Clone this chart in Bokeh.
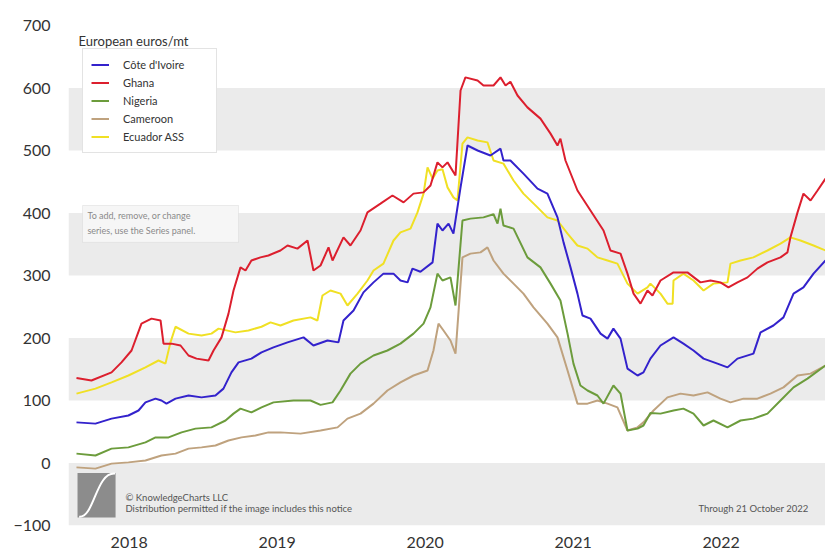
from bokeh.plotting import figure
from bokeh.models import (Range1d, FixedTicker, BoxAnnotation, Label, Legend,
                          LegendItem)
from bokeh.embed import file_html
from bokeh.resources import INLINE

# Cocoa bean prices, European euros per metric ton (weekly observations, decimal years)
civ_years = [2017.644, 2017.772, 2017.881, 2017.995, 2018.063, 2018.110, 2018.178, 2018.218,
             2018.252, 2018.313, 2018.401, 2018.489, 2018.583, 2018.637, 2018.691, 2018.739,
             2018.826, 2018.894, 2018.975, 2019.070, 2019.178, 2019.245, 2019.340, 2019.414,
             2019.448, 2019.516, 2019.583, 2019.651, 2019.718, 2019.786, 2019.833, 2019.881,
             2019.914, 2019.968, 2020.050, 2020.083, 2020.117, 2020.158, 2020.191, 2020.239,
             2020.286, 2020.354, 2020.441, 2020.509, 2020.529, 2020.576, 2020.664, 2020.759,
             2020.826, 2020.894, 2020.935, 2020.982, 2021.029, 2021.063, 2021.117, 2021.185,
             2021.232, 2021.272, 2021.320, 2021.367, 2021.435, 2021.475, 2021.522, 2021.590,
             2021.678, 2021.745, 2021.813, 2021.881, 2021.975, 2022.043, 2022.110, 2022.218,
             2022.266, 2022.353, 2022.421, 2022.489, 2022.556, 2022.624, 2022.705]
civ_values = [65, 63, 71, 76, 84, 97, 103, 100,
              95, 103, 108, 105, 108, 119, 145, 161,
              167, 177, 185, 193, 201, 188, 196, 193,
              228, 244, 273, 289, 303, 303, 292, 289,
              311, 306, 321, 383, 372, 383, 367, 441,
              508, 500, 492, 503, 484, 484, 463, 439,
              431, 393, 353, 313, 271, 236, 231, 207,
              199, 215, 199, 151, 140, 145, 167, 188,
              201, 191, 180, 167, 159, 153, 167, 175,
              209, 220, 233, 271, 281, 303, 324]

ghana_years = [2017.644, 2017.745, 2017.881, 2017.948, 2018.016, 2018.083, 2018.151, 2018.212,
               2018.232, 2018.286, 2018.347, 2018.401, 2018.455, 2018.536, 2018.570, 2018.624,
               2018.671, 2018.705, 2018.752, 2018.786, 2018.826, 2018.887, 2018.941, 2019.022,
               2019.070, 2019.137, 2019.205, 2019.245, 2019.293, 2019.347, 2019.374, 2019.448,
               2019.495, 2019.563, 2019.610, 2019.698, 2019.779, 2019.854, 2019.921, 2019.989,
               2020.036, 2020.083, 2020.117, 2020.151, 2020.205, 2020.239, 2020.272, 2020.354,
               2020.394, 2020.462, 2020.509, 2020.543, 2020.576, 2020.624, 2020.691, 2020.779,
               2020.847, 2020.894, 2020.914, 2020.948, 2021.029, 2021.117, 2021.205, 2021.252,
               2021.320, 2021.367, 2021.408, 2021.455, 2021.502, 2021.536, 2021.590, 2021.678,
               2021.772, 2021.860, 2021.928, 2021.995, 2022.049, 2022.110, 2022.178, 2022.245,
               2022.313, 2022.401, 2022.448, 2022.468, 2022.516, 2022.556, 2022.604, 2022.651,
               2022.705]
ghana_values = [136, 132, 145, 161, 180, 223, 231, 228,
                191, 191, 188, 172, 167, 164, 180, 201,
                239, 276, 313, 308, 324, 329, 332, 340,
                348, 343, 356, 308, 316, 345, 324, 361,
                348, 372, 401, 415, 428, 417, 431, 433,
                444, 481, 473, 481, 460, 596, 617, 612,
                604, 604, 617, 604, 610, 588, 569, 551,
                527, 508, 519, 484, 436, 404, 372, 340,
                335, 303, 271, 255, 276, 268, 292, 305,
                305, 289, 292, 289, 281, 289, 297, 311,
                321, 329, 337, 361, 401, 431, 420, 436,
                455]

nigeria_years = [2017.644, 2017.772, 2017.881, 2017.995, 2018.110, 2018.178, 2018.266, 2018.354,
                 2018.448, 2018.556, 2018.651, 2018.705, 2018.752, 2018.826, 2018.894, 2018.975,
                 2019.110, 2019.225, 2019.293, 2019.374, 2019.428, 2019.495, 2019.563, 2019.651,
                 2019.745, 2019.833, 2019.921, 2019.989, 2020.036, 2020.083, 2020.117, 2020.171,
                 2020.205, 2020.252, 2020.306, 2020.394, 2020.462, 2020.489, 2020.509, 2020.529,
                 2020.597, 2020.691, 2020.779, 2020.847, 2020.914, 2020.962, 2021.002, 2021.049,
                 2021.097, 2021.164, 2021.205, 2021.272, 2021.320, 2021.367, 2021.435, 2021.475,
                 2021.522, 2021.590, 2021.678, 2021.745, 2021.813, 2021.881, 2021.948, 2022.043,
                 2022.131, 2022.218, 2022.313, 2022.401, 2022.489, 2022.583, 2022.705]
nigeria_values = [15, 12, 23, 25, 33, 41, 41, 49,
                  55, 57, 68, 79, 87, 81, 89, 97,
                  100, 100, 93, 97, 116, 143, 159, 172,
                  180, 191, 207, 223, 249, 303, 292, 297,
                  252, 388, 391, 393, 398, 383, 407, 380,
                  375, 329, 313, 287, 260, 207, 159, 124,
                  116, 108, 95, 124, 111, 52, 55, 60,
                  80, 79, 84, 87, 79, 60, 68, 57,
                  68, 71, 79, 100, 121, 135, 156]

cameroon_years = [2017.644, 2017.772, 2017.881, 2017.995, 2018.110, 2018.218, 2018.313, 2018.401,
                  2018.489, 2018.583, 2018.671, 2018.759, 2018.853, 2018.941, 2019.022, 2019.158,
                  2019.293, 2019.408, 2019.475, 2019.563, 2019.651, 2019.745, 2019.833, 2019.921,
                  2020.016, 2020.056, 2020.090, 2020.124, 2020.171, 2020.205, 2020.252, 2020.306,
                  2020.374, 2020.421, 2020.462, 2020.529, 2020.597, 2020.664, 2020.732, 2020.826,
                  2020.894, 2020.962, 2021.029, 2021.097, 2021.164, 2021.232, 2021.299, 2021.367,
                  2021.435, 2021.475, 2021.543, 2021.637, 2021.725, 2021.813, 2021.908, 2021.995,
                  2022.063, 2022.151, 2022.245, 2022.333, 2022.421, 2022.516, 2022.604, 2022.705]
cameroon_values = [-7, -9, -1, 1, 4, 12, 15, 23,
                   25, 28, 36, 41, 44, 49, 49, 47,
                   52, 57, 71, 79, 95, 116, 129, 140,
                   148, 180, 223, 212, 196, 175, 329, 335,
                   337, 345, 324, 303, 287, 271, 249, 223,
                   201, 148, 95, 95, 100, 95, 89, 52,
                   57, 65, 84, 105, 111, 108, 113, 103,
                   97, 103, 103, 111, 121, 140, 143, 156]

ecuador_years = [2017.644, 2017.772, 2017.881, 2017.995, 2018.110, 2018.198, 2018.245, 2018.279,
                 2018.313, 2018.401, 2018.489, 2018.556, 2018.604, 2018.718, 2018.806, 2018.894,
                 2018.955, 2019.022, 2019.110, 2019.225, 2019.272, 2019.306, 2019.360, 2019.428,
                 2019.475, 2019.543, 2019.610, 2019.651, 2019.718, 2019.786, 2019.833, 2019.901,
                 2019.948, 2019.989, 2020.016, 2020.050, 2020.083, 2020.117, 2020.151, 2020.191,
                 2020.218, 2020.252, 2020.286, 2020.354, 2020.421, 2020.462, 2020.529, 2020.597,
                 2020.664, 2020.759, 2020.826, 2020.894, 2020.962, 2021.029, 2021.097, 2021.164,
                 2021.232, 2021.299, 2021.367, 2021.435, 2021.502, 2021.522, 2021.590, 2021.637,
                 2021.672, 2021.678, 2021.745, 2021.813, 2021.881, 2021.948, 2022.043, 2022.063,
                 2022.131, 2022.218, 2022.313, 2022.401, 2022.468, 2022.536, 2022.624, 2022.705]
ecuador_values = [111, 119, 129, 140, 153, 164, 159, 193,
                  218, 207, 204, 207, 215, 209, 212, 218,
                  225, 220, 228, 233, 228, 268, 276, 271,
                  252, 271, 292, 308, 319, 356, 369, 375,
                  401, 431, 473, 455, 468, 470, 441, 425,
                  420, 511, 521, 516, 513, 484, 479, 452,
                  431, 409, 393, 388, 367, 348, 343, 329,
                  324, 319, 287, 271, 281, 287, 271, 255,
                  255, 292, 303, 292, 276, 287, 289, 319,
                  324, 329, 340, 351, 361, 356, 348, 340]

series_names = ["Côte d'Ivoire", "Ghana", "Nigeria", "Cameroon", "Ecuador ASS"]
series_colors = ["#3322cc", "#dc1f2e", "#6c9c3c", "#bfa27e", "#f0e024"]

year_ticks = [2018, 2019, 2020, 2021, 2022]
value_ticks = [-100, 0, 100, 200, 300, 400, 500, 600, 700]
shaded_bands = [(-100, 0), (100, 200), (300, 400), (500, 600)]

FONT = "Lato"

p = figure(width=825, height=554, output_backend="svg", toolbar_location=None,
           x_range=Range1d(2017.59, 2022.705), y_range=Range1d(-100, 700),
           min_border_left=68, min_border_right=0, min_border_top=25,
           min_border_bottom=29)
p.outline_line_color = None
p.background_fill_color = "white"
p.grid.visible = False

for lo, hi in shaded_bands:
    p.add_layout(BoxAnnotation(bottom=lo, top=hi, fill_color="#ebebeb",
                               fill_alpha=1.0, line_color=None, level="underlay"))

for ax in (p.xaxis[0], p.yaxis[0]):
    ax.axis_line_color = None
    ax.major_tick_line_color = None
    ax.minor_tick_line_color = None
    ax.major_label_text_font = FONT
    ax.major_label_text_font_size = "16px"
    ax.major_label_text_color = "#333333"

p.yaxis.ticker = FixedTicker(ticks=value_ticks)
p.yaxis.major_label_standoff = 12
p.xaxis.ticker = FixedTicker(ticks=year_ticks)
p.xaxis.major_label_overrides = {y: str(y) for y in year_ticks}
p.xaxis.major_label_standoff = 5

# Draw lines back to front, Ecuador first
data = [(civ_years, civ_values), (ghana_years, ghana_values),
        (nigeria_years, nigeria_values), (cameroon_years, cameroon_values),
        (ecuador_years, ecuador_values)]
renderers = [None] * 5
for i in [4, 3, 2, 1, 0]:
    xs, ys = data[i]
    renderers[i] = p.line(xs, ys, line_color=series_colors[i], line_width=2)

legend = Legend(items=[LegendItem(label=n, renderers=[r])
                       for n, r in zip(series_names, renderers)],
                location=(14, 372), padding=8, spacing=3,
                label_height=15, glyph_height=15, glyph_width=18,
                label_standoff=14, label_width=85,
                label_text_font=FONT, label_text_font_size="11px",
                label_text_color="#333333",
                border_line_color="#c8c8c8", border_line_width=1,
                background_fill_color="white", background_fill_alpha=1.0)
p.add_layout(legend)

p.add_layout(Label(x=2017.658, y=676, text="European euros/mt", text_font=FONT,
                   text_font_size="13px", text_color="#333333",
                   text_baseline="middle"))

# Hint box
p.add_layout(BoxAnnotation(left=2017.685, right=2018.739, bottom=353, top=412,
                           fill_color="#f6f6f6", fill_alpha=1.0,
                           line_color="#c8c8c8", line_width=1))
p.add_layout(Label(x=2017.718, y=396, text="To add, remove, or change",
                   text_font=FONT, text_font_size="9px", text_color="#8a8a8a",
                   text_baseline="middle"))
p.add_layout(Label(x=2017.718, y=372, text="series, use the Series panel.",
                   text_font=FONT, text_font_size="9px", text_color="#8a8a8a",
                   text_baseline="middle"))

# Publisher mark: grey square with a white integral-like stroke
p.quad(left=[2017.651], right=[2017.908], bottom=[-87], top=[-16],
       fill_color="#8c8c8c", line_color=None)
p.bezier(x0=[2017.662], y0=[-86], x1=[2017.905], y1=[-17],
         cx0=[2017.765], cy0=[-88], cx1=[2017.775], cy1=[-14],
         line_color="white", line_width=2)
p.add_layout(Label(x=2017.975, y=-55, text="© KnowledgeCharts LLC", text_font=FONT,
                   text_font_size="9.5px", text_color="#555555",
                   text_baseline="middle"))
p.add_layout(Label(x=2017.975, y=-73,
                   text="Distribution permitted if the image includes this notice",
                   text_font=FONT, text_font_size="9.5px", text_color="#555555",
                   text_baseline="middle"))
p.add_layout(Label(x=2021.847, y=-73, text="Through 21 October 2022", text_font=FONT,
                   text_font_size="9.5px", text_color="#555555",
                   text_baseline="middle"))

open("out.html", "w").write(file_html(p, INLINE))
